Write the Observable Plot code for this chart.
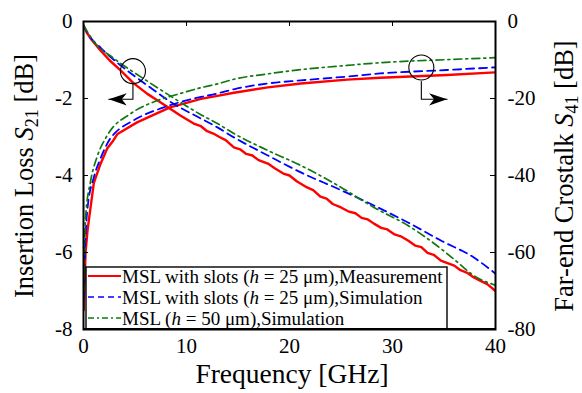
<!DOCTYPE html>
<html><head><meta charset="utf-8">
<script src="https://cdn.jsdelivr.net/npm/d3@7"></script>
<script src="https://cdn.jsdelivr.net/npm/@observablehq/plot@0.6"></script>
<style>
body{margin:0;background:#fff}
svg, svg text{font-family:"Liberation Serif","Times New Roman",serif}
</style>
</head><body><div id="chart"></div>
<script>
// ---- axes / labels ----
const xTicks = [0, 10, 20, 30, 40];
const yLeftTicks = [0, -2, -4, -6, -8];          // Insertion loss S21 [dB]
const rightPerLeft = 10;                           // right axis (S41) = left * 10
const legendLabels = [
  ["MSL with slots (", "h", " = 25 \u03bcm),Measurement"],
  ["MSL with slots (", "h", " = 25 \u03bcm),Simulation"],
  ["MSL (", "h", " = 50 \u03bcm),Simulation"]
];

// ---- S21 (left axis, dB) ----
const redS21F = [0,0.3,0.8,1.65,2.5,3.6,4.85,6.2,7.2,8.2,9.4,10.7,11.4,12.0,12.6,13.2,13.8,14.6,15.2,15.8,16.4,17.0,17.9,18.6,19.4,20.0,20.7,21.7,22.3,23.0,23.6,24.2,25.0,25.7,26.4,27.0,27.6,28.2,28.9,29.5,30.2,30.8,31.5,32.2,32.8,33.4,34.0,34.7,35.4,36.0,36.6,37.2,37.9,38.5,39.2,40.0];
const redS21  = [-0.10,-0.28,-0.48,-0.75,-1.00,-1.27,-1.60,-1.88,-2.05,-2.23,-2.44,-2.65,-2.72,-2.85,-2.91,-3.00,-3.08,-3.27,-3.32,-3.44,-3.48,-3.60,-3.69,-3.82,-3.95,-4.00,-4.15,-4.31,-4.38,-4.55,-4.60,-4.74,-4.83,-4.93,-4.98,-5.10,-5.14,-5.25,-5.36,-5.40,-5.53,-5.58,-5.69,-5.82,-5.86,-6.01,-6.06,-6.21,-6.28,-6.34,-6.46,-6.52,-6.65,-6.73,-6.82,-7.00];
const blueS21F = [0,0.5,1.65,3.6,6.2,8.7,11.4,13,14.6,17.9,21.1,25,28.2,31.5,34.7,37.9,40];
const blueS21  = [-0.10,-0.35,-0.68,-1.14,-1.66,-2.13,-2.52,-2.75,-3.01,-3.48,-3.92,-4.38,-4.78,-5.22,-5.69,-6.13,-6.55];
const greenS21F = [0,1,2.9,4.6,6.2,8.7,11.4,13,14.6,17.9,21.1,24.7,28.2,31.5,34.7,36.3,37.9,40];
const greenS21  = [-0.10,-0.52,-0.95,-1.27,-1.55,-1.98,-2.42,-2.65,-2.91,-3.35,-3.74,-4.26,-4.83,-5.30,-5.90,-6.25,-6.60,-6.85];

// ---- S41 (right axis, dB) ----
const redS41F = [0.02,0.2,0.4,0.7,1.0,1.65,2.3,2.9,3.3,5.2,8.4,10.7,11.4,13,14.6,17.9,21.1,25.6,28.8,35.3,40];
const redS41  = [-75,-60,-54,-48,-42,-37,-33,-30.9,-29.2,-26.2,-22.3,-20.6,-20.1,-19.3,-18.5,-17.1,-16.1,-15.1,-14.6,-13.9,-13.2];
const blueS41F = [0.02,0.2,0.4,1.0,1.65,2.6,2.9,4.85,7.8,10.4,11.4,13,14.6,17.9,21.1,25.6,28.8,35.3,40];
const blueS41  = [-72,-56,-48.3,-40.5,-35.6,-30.4,-29.4,-25.7,-22.3,-20.2,-19.6,-18.7,-17.6,-16.1,-15.3,-14.3,-13.5,-12.6,-11.9];
const greenS41F = [0.02,0.2,0.7,1.3,2.3,4.6,7.2,9.4,11.4,13,14.6,17.9,21.1,25.6,28.8,35.3,40];
const greenS41  = [-70,-51,-41.3,-35.3,-29.6,-23.9,-20.5,-18.7,-17.2,-16.2,-15.0,-13.6,-12.5,-11.4,-10.7,-9.9,-9.4];

// ---- callouts (circle center, leader end, arrow tip), data units of left axis ----
const calloutCircleF = [4.8, 32.8];
const calloutCircleY = [-1.29, -1.195];
const calloutCircleBottomY = [-1.62, -1.56];
const calloutArrowY = [-2.02, -2.02];
const calloutTipF = [2.45, 35.3];

const colors = {red: "#ff0000", blue: "#0000ff", green: "#117711"};

const rows = (f, v, k = 1) => f.map((x, i) => ({f: x, v: v[i] * k}));
const redA = rows(redS21F, redS21), blueA = rows(blueS21F, blueS21), greenA = rows(greenS21F, greenS21);
const redB = rows(redS41F, redS41, 1 / rightPerLeft), blueB = rows(blueS41F, blueS41, 1 / rightPerLeft), greenB = rows(greenS41F, greenS41, 1 / rightPerLeft);

const circles = calloutCircleF.map((f, i) => ({f, v: calloutCircleY[i]}));
const leaders = calloutCircleF.map((f, i) => [
  {f, v: calloutCircleBottomY[i]}, {f, v: calloutArrowY[i]}, {f: calloutTipF[i], v: calloutArrowY[i]}
]);
const tips = calloutTipF.map((f, i) => ({f, v: calloutArrowY[i], dir: i === 0 ? -1 : 1}));

function arrowSym(dir) {
  return {draw(ctx, size) {
    const s = Math.sqrt(size / Math.PI);
    ctx.moveTo(0, 0);
    ctx.lineTo(-dir * 2 * s, -0.68 * s);
    ctx.lineTo(-dir * 1.45 * s, 0);
    ctx.lineTo(-dir * 2 * s, 0.68 * s);
    ctx.closePath();
  }};
}

const W = 582, H = 393, mL = 83, mR = 87, mT = 21, mB = 64;
const innerW = W - mL - mR, innerH = H - mT - mB;
const serif = "'Liberation Serif','Times New Roman',serif";

const lineOpts = (c, extra) => Object.assign({x: "f", y: "v", stroke: c, clip: true}, extra);

const chart = Plot.plot({
  width: W, height: H,
  marginLeft: mL, marginRight: mR, marginTop: mT, marginBottom: mB,
  x: {domain: [0, 40]},
  y: {domain: [-8, 0]},
  style: {fontFamily: serif, fontSize: "21px", color: "black", background: "white"},
  marks: [
    Plot.line(redB, lineOpts(colors.red, {strokeWidth: 2.4})),
    Plot.line(redA, lineOpts(colors.red, {strokeWidth: 2.4})),
    Plot.line(blueB, lineOpts(colors.blue, {strokeWidth: 1.8, strokeDasharray: "8,5", curve: "monotone-x"})),
    Plot.line(blueA, lineOpts(colors.blue, {strokeWidth: 1.8, strokeDasharray: "8,5", curve: "monotone-x"})),
    Plot.line(greenB, lineOpts(colors.green, {strokeWidth: 1.7, strokeDasharray: "8,4,2,4", curve: "monotone-x"})),
    Plot.line(greenA, lineOpts(colors.green, {strokeWidth: 1.7, strokeDasharray: "8,4,2,4", curve: "monotone-x"})),
    Plot.dot(circles, {x: "f", y: "v", r: 12.5, stroke: "black", fill: "none", strokeWidth: 1.1}),
    ...leaders.map(l => Plot.line(l, {x: "f", y: "v", stroke: "black", strokeWidth: 1.1})),
    Plot.dot(tips.filter(d => d.dir < 0), {x: "f", y: "v", r: 9, symbol: arrowSym(-1), fill: "black", stroke: "none"}),
    Plot.dot(tips.filter(d => d.dir > 0), {x: "f", y: "v", r: 9, symbol: arrowSym(1), fill: "black", stroke: "none"}),
    Plot.tickX(xTicks, {x: d => d, insetTop: innerH - 5, stroke: "black", strokeWidth: 1}),
    Plot.tickX(xTicks, {x: d => d, insetBottom: innerH - 5, stroke: "black", strokeWidth: 1}),
    Plot.tickY(yLeftTicks, {y: d => d, insetRight: innerW - 5, stroke: "black", strokeWidth: 1}),
    Plot.tickY(yLeftTicks, {y: d => d, insetLeft: innerW - 5, stroke: "black", strokeWidth: 1}),
    Plot.axisX({anchor: "bottom", ticks: xTicks, tickSize: 0, tickPadding: 9, label: null, tickFormat: d => String(d)}),
    Plot.axisY({anchor: "left", ticks: yLeftTicks, tickSize: 0, tickPadding: 11, label: null, tickFormat: d => String(d)}),
    Plot.axisY({anchor: "right", ticks: yLeftTicks, tickSize: 0, tickPadding: 12, label: null, tickFormat: d => String(Math.round(d * rightPerLeft))}),
    Plot.frame({stroke: "black", strokeWidth: 2})
  ]
});

const svg = d3.select(chart);
// make sure all Plot texts use the serif face
svg.selectAll("text").style("font-family", serif);

// legend
const lg = svg.append("g").attr("text-anchor", "start");
const lgX = 86, lgY = 267, lgW = 361, lgH = mT + innerH - lgY;
lg.append("rect").attr("x", lgX).attr("y", lgY).attr("width", lgW).attr("height", lgH)
  .attr("fill", "white").attr("stroke", "black").attr("stroke-width", 1.4);
const lgStyles = [
  {c: colors.red, w: 2, dash: null},
  {c: colors.blue, w: 1.6, dash: "6,4"},
  {c: colors.green, w: 1.5, dash: "6,3,2,3"}
];
legendLabels.forEach((parts, i) => {
  const yy = 276 + 21 * i;
  const st = lgStyles[i];
  const ln = lg.append("line").attr("x1", 88).attr("x2", 121).attr("y1", yy).attr("y2", yy)
    .attr("stroke", st.c).attr("stroke-width", st.w);
  if (st.dash) ln.attr("stroke-dasharray", st.dash);
  const t = lg.append("text").attr("x", 122).attr("y", yy + 7).attr("font-size", 19)
    .attr("text-anchor", "start").style("font-family", serif).attr("fill", "black");
  t.append("tspan").text(parts[0]);
  t.append("tspan").attr("font-style", "italic").text(parts[1]);
  t.append("tspan").text(parts[2]);
});
// redraw frame bottom on top of legend
svg.append("line").attr("x1", mL).attr("x2", W - mR).attr("y1", mT + innerH).attr("y2", mT + innerH).attr("stroke", "black").attr("stroke-width", 2);

// axis titles
function title(x, y, rot, size, parts, sub) {
  const t = svg.append("text").attr("transform", `translate(${x},${y}) rotate(${rot})`)
    .attr("text-anchor", "middle").attr("font-size", size).style("font-family", serif).attr("fill", "black");
  t.append("tspan").text(parts[0]);
  if (sub) {
    t.append("tspan").attr("font-style", "italic").text("S");
    t.append("tspan").attr("font-size", size * 0.68).attr("dy", 5).text(sub);
    t.append("tspan").attr("dy", -5).text(parts[1]);
  }
  return t;
}
title(33, 176, -90, 26.5, ["Insertion Loss ", " [dB]"], "21");
title(573, 176, -90, 26.5, ["Far-end Crostalk ", " [dB]"], "41");
title(mL + innerW / 2 + 3, 383, 0, 27.5, ["Frequency [GHz]"], null);

document.getElementById("chart").appendChild(chart);
</script>
</body></html>
